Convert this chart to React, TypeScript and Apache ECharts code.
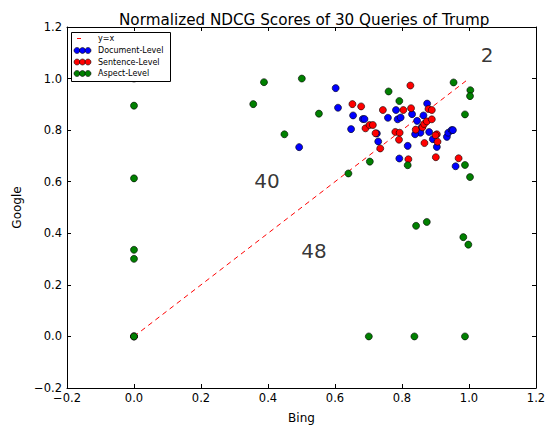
import React, { useEffect, useRef } from "react";
import * as echarts from "echarts";

const TITLE = "Normalized NDCG Scores of 30 Queries of Trump";
const X_NAME = "Bing";
const Y_NAME = "Google";

const docX = [0.875, 0.782, 0.830, 0.864, 0.683, 0.688, 0.758, 0.787, 0.796, 0.845, 0.859, 0.855, 0.839, 0.881, 0.892, 0.904, 0.725, 0.729, 0.817, 0.792, 0.934, 0.938, 0.948, 0.952, 0.960, 0.602, 0.609, 0.654, 0.648, 0.493, 0.0];
const docY = [0.903, 0.878, 0.862, 0.857, 0.843, 0.843, 0.848, 0.842, 0.849, 0.836, 0.811, 0.790, 0.784, 0.793, 0.765, 0.735, 0.787, 0.756, 0.739, 0.690, 0.774, 0.790, 0.800, 0.800, 0.660, 0.963, 0.887, 0.857, 0.804, 0.734, 0.0];

const senX = [0.825, 0.652, 0.678, 0.743, 0.804, 0.827, 0.879, 0.889, 0.691, 0.703, 0.713, 0.721, 0.735, 0.780, 0.793, 0.791, 0.819, 0.841, 0.861, 0.866, 0.874, 0.889, 0.867, 0.904, 0.900, 0.906, 0.901, 0.969, 0.0];
const senY = [0.973, 0.901, 0.892, 0.878, 0.878, 0.885, 0.882, 0.878, 0.807, 0.820, 0.820, 0.788, 0.729, 0.793, 0.790, 0.763, 0.687, 0.802, 0.811, 0.824, 0.834, 0.842, 0.750, 0.784, 0.780, 0.755, 0.695, 0.691, 0.0];

const aspX = [0.0, 0.0, 0.0, 0.0, 0.0, 0.0, 0.356, 0.388, 0.501, 0.552, 0.449, 0.640, 0.704, 0.760, 0.792, 0.954, 1.004, 1.003, 0.988, 0.817, 0.988, 1.003, 0.842, 0.874, 0.983, 0.998, 0.701, 0.837, 0.988];
const aspY = [1.0, 0.895, 0.613, 0.336, 0.301, 0.0, 0.901, 0.986, 1.0, 0.864, 0.784, 0.632, 0.678, 0.950, 0.913, 0.985, 0.955, 0.932, 0.861, 0.664, 0.665, 0.618, 0.429, 0.444, 0.385, 0.356, 0.0, 0.0, 0.0];

const lineX = [0, 1];
const lineY = [0, 1];

const annText = ["2", "40", "48"];
const annX = [1.054, 0.397, 0.537];
const annY = [1.093, 0.602, 0.332];

const legendNames = ["y=x", "Document-Level", "Sentence-Level", "Aspect-Level"];
const COLORS = { doc: "#0000ff", sen: "#ff0000", asp: "#008000", line: "#ff0000" };

const FONT = "DejaVu Sans";

const zip = (xs: number[], ys: number[]) => xs.map((x, i) => [x, ys[i]]);
const fmt = (v: number) => v.toFixed(1).replace("-", "\u2212");

export default function App() {
  const ref = useRef<HTMLDivElement>(null);
  useEffect(() => {
    if (!ref.current) return;
    document.body.style.margin = "0";
    document.body.style.overflow = "hidden";
    const chart = echarts.init(ref.current, null, { renderer: "svg" });
    const axisCommon = {
      type: "value" as const,
      min: -0.2,
      max: 1.2,
      interval: 0.2,
      splitLine: { show: false },
      axisLine: { show: true, onZero: false, lineStyle: { color: "#000", width: 1 } },
      axisTick: { show: true, inside: true, length: 4, lineStyle: { color: "#000" } },
    };
    const scatterStyle = (c: string) => ({ color: c, borderColor: "#000", borderWidth: 0.6, opacity: 1 });
    const legendX0 = 71, legendY0 = 32;
    const rowY = [38.5, 50.5, 62, 73.5];
    const legendColors = [COLORS.doc, COLORS.sen, COLORS.asp];
    const graphics: any[] = [
      {
        type: "rect",
        shape: { x: legendX0 + 0.5, y: legendY0 + 0.5, width: 99, height: 49 },
        style: { fill: "#fff", stroke: "#000", lineWidth: 1 },
        z: 100,
      },
      {
        type: "line",
        shape: { x1: 77, y1: rowY[0], x2: 81, y2: rowY[0] },
        style: { stroke: COLORS.line, lineWidth: 1 },
        z: 101,
      },
    ];
    legendNames.forEach((n, i) => {
      graphics.push({
        type: "text",
        x: 98,
        y: rowY[i],
        style: { text: n, font: `8px "${FONT}"`, fill: "#000", textVerticalAlign: "middle", verticalAlign: "middle" },
        z: 101,
      });
      if (i > 0) {
        [77, 82.5, 88].forEach((cx) => {
          graphics.push({
            type: "circle",
            shape: { cx, cy: rowY[i], r: 3 },
            style: { fill: legendColors[i - 1], stroke: "#000", lineWidth: 0.6 },
            z: 101,
          });
        });
      }
    });

    chart.setOption({
      animation: false,
      textStyle: { fontFamily: FONT },
      title: {
        text: TITLE,
        left: 114,
        top: 7,
        textStyle: { fontFamily: FONT, fontSize: 15.2, fontWeight: "normal", color: "#000" },
      },
      grid: { left: 67, right: 19, top: 27, bottom: 37, containLabel: false },
      xAxis: [
        {
          ...axisCommon,
          position: "bottom",
          name: X_NAME,
          nameLocation: "middle",
          nameGap: 24,
          nameTextStyle: { fontFamily: FONT, fontSize: 12, color: "#000" },
          axisLabel: { formatter: fmt, fontFamily: FONT, fontSize: 11.5, color: "#000", margin: 4 },
        },
        { ...axisCommon, position: "top", axisLabel: { show: false } },
      ],
      yAxis: [
        {
          ...axisCommon,
          position: "left",
          name: Y_NAME,
          nameLocation: "middle",
          nameGap: 43,
          nameTextStyle: { fontFamily: FONT, fontSize: 12, color: "#000" },
          axisLabel: { formatter: fmt, fontFamily: FONT, fontSize: 11.5, color: "#000", margin: 5 },
        },
        { ...axisCommon, position: "right", axisLabel: { show: false } },
      ],
      series: [
        {
          type: "line",
          data: zip(lineX, lineY),
          symbol: "none",
          lineStyle: { color: COLORS.line, width: 1, type: [5, 4] },
          z: 1,
        },
        {
          type: "scatter",
          data: zip(docX, docY),
          symbolSize: 7,
          itemStyle: scatterStyle(COLORS.doc),
          z: 2,
        },
        {
          type: "scatter",
          data: zip(senX, senY),
          symbolSize: 7,
          itemStyle: scatterStyle(COLORS.sen),
          z: 3,
        },
        {
          type: "scatter",
          data: zip(aspX, aspY),
          symbolSize: 7,
          itemStyle: scatterStyle(COLORS.asp),
          z: 4,
        },
        {
          type: "scatter",
          data: annText.map((t, i) => ({ value: [annX[i], annY[i]], name: t })),
          symbolSize: 0,
          silent: true,
          label: {
            show: true,
            position: "inside",
            formatter: (p: any) => p.name,
            fontFamily: FONT,
            fontSize: 20,
            color: "#000",
          },
          z: 5,
        },
      ],
      graphic: graphics,
    });
    return () => chart.dispose();
  }, []);
  return (
    <div
      ref={ref}
      style={{ position: "absolute", left: 0, top: 0, width: 555, height: 429 }}
    />
  );
}
